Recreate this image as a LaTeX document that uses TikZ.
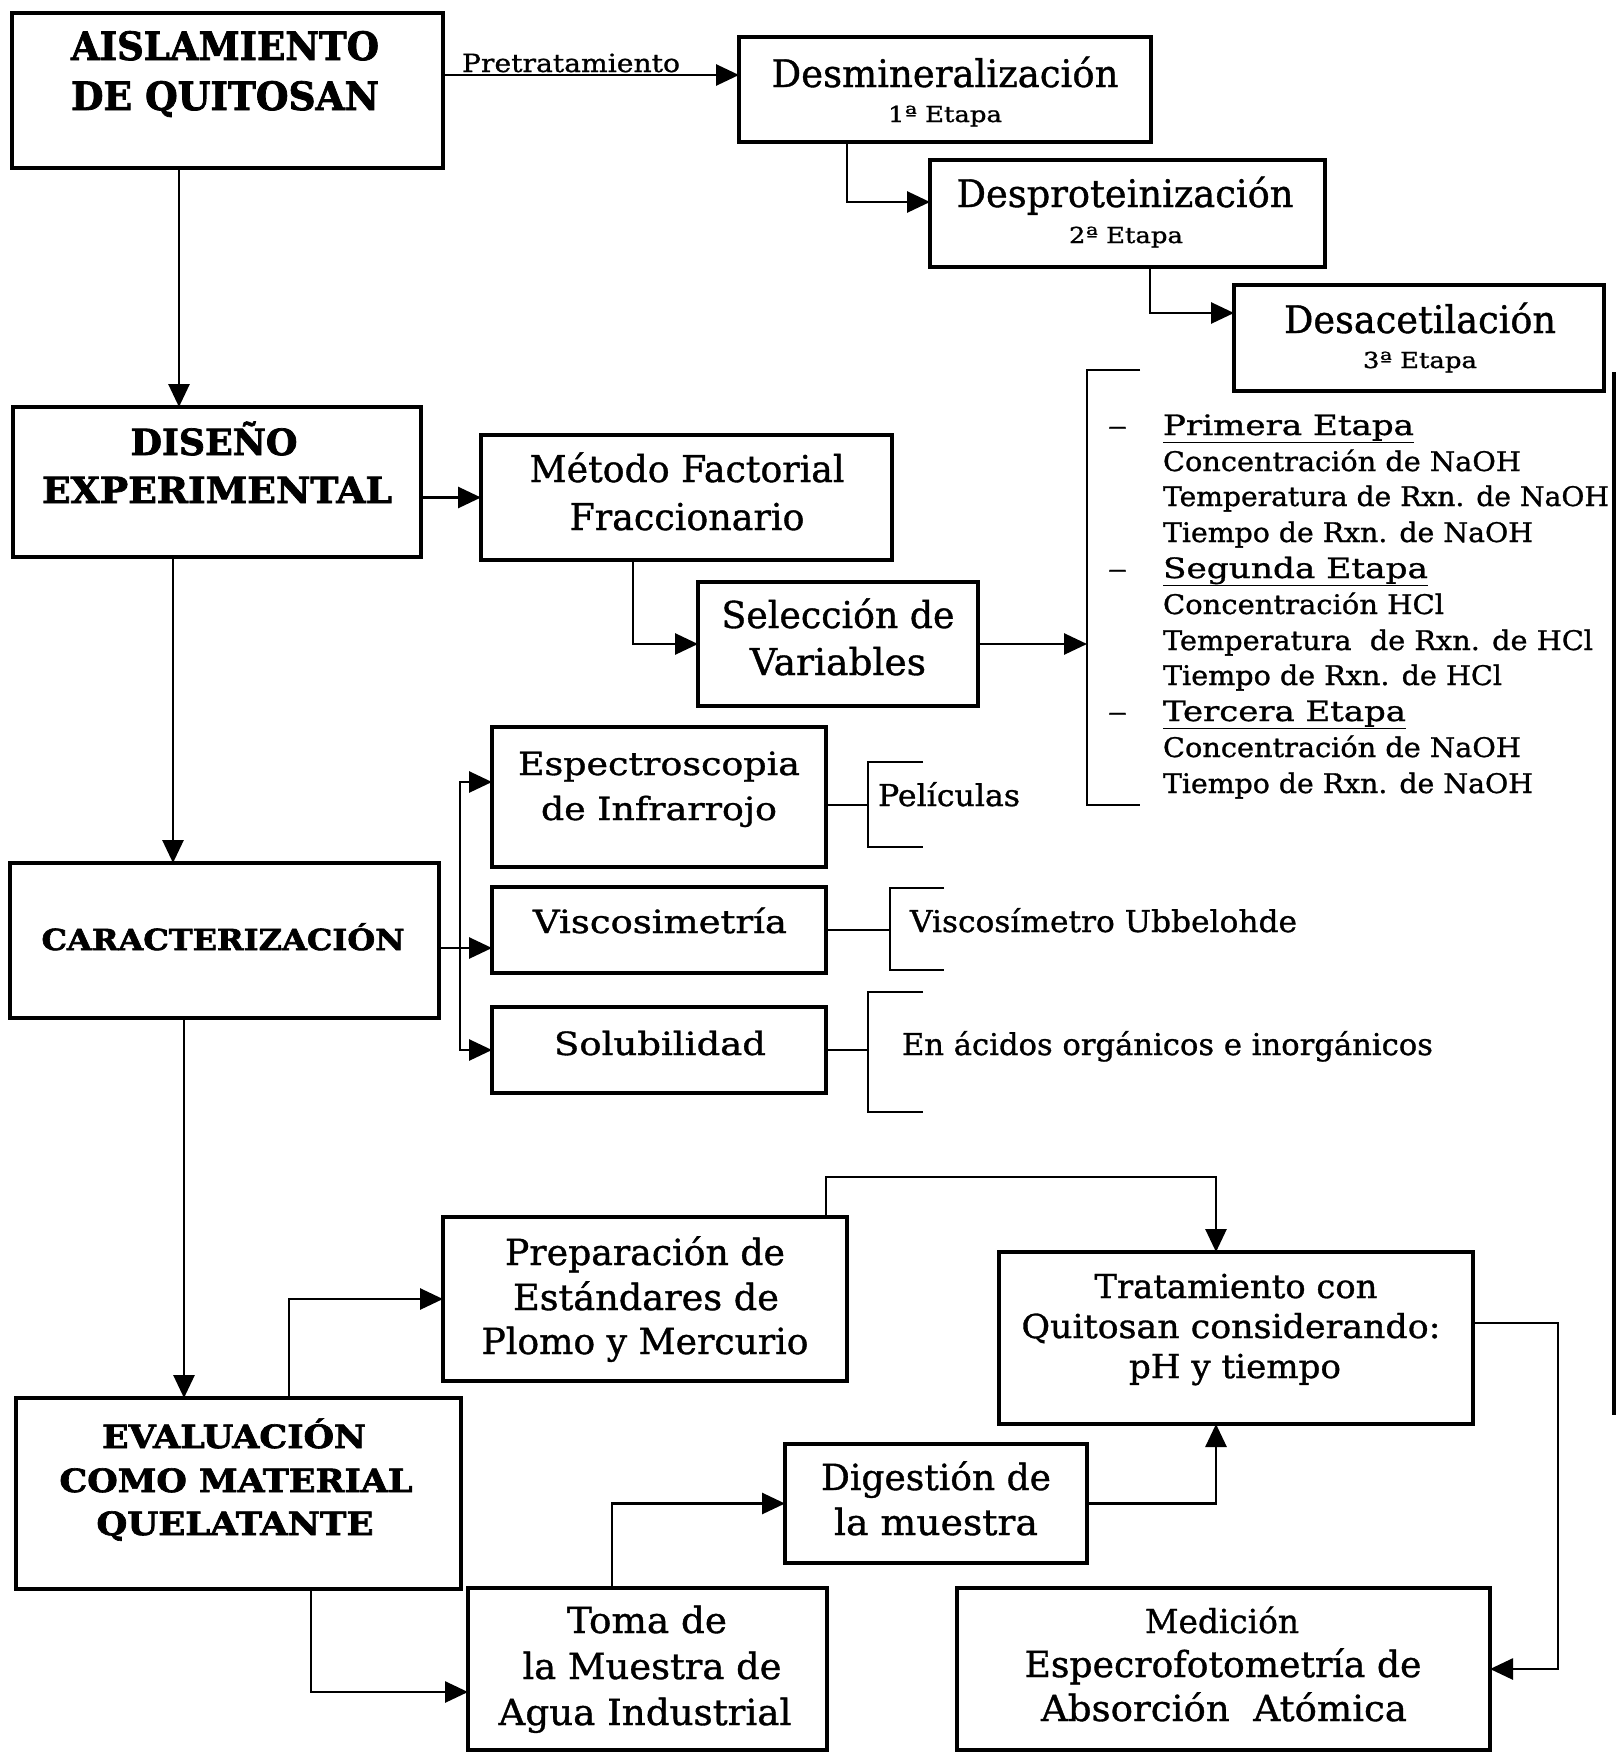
\documentclass[tikz,border=0pt]{standalone}
\usepackage{fontspec}
\setmainfont{DejaVu Serif}[FakeBold=1.0, BoldFeatures={FakeBold=2.0}]
\usepackage{graphicx}
\usetikzlibrary{arrows.meta,calc}
\tikzset{
  box/.style={draw, line width=3.4pt, inner sep=0pt, outer sep=0pt, rectangle},
  conn/.style={line width=2.8pt},
  arr/.style={conn, -{Triangle[length=23pt,width=21pt]}},
  txt/.style={inner sep=0pt, outer sep=0pt},
}
\newcommand{\mytc}[5]{\node[txt,anchor=base] (#1) at (#2) {\fontsize{#4pt}{#4pt}\selectfont\resizebox{#3pt}{\height}{#5}};}
\newcommand{\mytl}[5]{\node[txt,anchor=base west] (#1) at (#2) {\fontsize{#4pt}{#4pt}\selectfont\resizebox{#3pt}{\height}{#5}};}
\begin{document}
\begin{tikzpicture}[x=1pt,y=-1pt]
\fill[white] (0,0) rectangle (1620,1753);
\useasboundingbox (0,0) rectangle (1620,1753);

% boxes
\node[box, minimum width=431pt, minimum height=155pt] (ais) at (227.5,90.5) {};
\node[box, minimum width=412pt, minimum height=105pt] (desm) at (945,89.5) {};
\node[box, minimum width=395pt, minimum height=107pt] (desp) at (1127.5,213.5) {};
\node[box, minimum width=370pt, minimum height=106pt] (desa) at (1419,338) {};
\node[box, minimum width=408pt, minimum height=150pt] (dis) at (217,482) {};
\node[box, minimum width=411pt, minimum height=125pt] (met) at (686.5,497.5) {};
\node[box, minimum width=280pt, minimum height=124pt] (sel) at (838,644) {};
\node[box, minimum width=429pt, minimum height=155pt] (car) at (224.5,940.5) {};
\node[box, minimum width=334pt, minimum height=140pt] (esp) at (659,797) {};
\node[box, minimum width=334pt, minimum height=86pt] (vis) at (659,930) {};
\node[box, minimum width=334pt, minimum height=86pt] (sol) at (659,1050) {};
\node[box, minimum width=445pt, minimum height=191pt] (eval) at (238.5,1493.5) {};
\node[box, minimum width=404pt, minimum height=164pt] (prep) at (645,1299) {};
\node[box, minimum width=474pt, minimum height=172pt] (trat) at (1236,1338) {};
\node[box, minimum width=302pt, minimum height=119pt] (dig) at (936,1503.5) {};
\node[box, minimum width=359pt, minimum height=162pt] (toma) at (647.5,1669) {};
\node[box, minimum width=533pt, minimum height=162pt] (med) at (1223.5,1669) {};

% texts
\mytc{t1}{225,60}{308}{39}{\bfseries AISLAMIENTO}
\mytc{t2}{225,110}{308}{39}{\bfseries DE QUITOSAN}
\mytc{tpre}{571,72}{218}{25}{Pretratamiento}
\mytc{tdm1}{945,87}{347}{38}{Desmineralización}
\mytc{tdm2}{945,122}{114}{22}{1ª Etapa}
\mytc{tdp1}{1125,207}{337}{38}{Desproteinización}
\mytc{tdp2}{1126,243}{114}{22}{2ª Etapa}
\mytc{tda1}{1420,333}{272}{38}{Desacetilación}
\mytc{tda2}{1420,368}{114}{22}{3ª Etapa}
\mytc{tdi1}{214,455}{167}{36}{\bfseries DISEÑO}
\mytc{tdi2}{217,503}{350}{36}{\bfseries EXPERIMENTAL}
\mytc{tme1}{687,482}{315}{37}{Método Factorial}
\mytc{tme2}{687,530}{235}{37}{Fraccionario}
\mytc{tse1}{838,628}{233}{37}{Selección de}
\mytc{tse2}{838,675}{176}{37}{Variables}

\mytl{d1}{1108,435}{19}{27}{–}
\mytl{d2}{1108,578}{19}{27}{–}
\mytl{d3}{1108,721}{19}{27}{–}
\mytl{l1}{1163,435}{251}{28}{\underline{Primera Etapa}}
\mytl{l2}{1163,471}{358}{27}{Concentración de NaOH}
\mytl{l3}{1163,506}{446}{27}{Temperatura de Rxn. de NaOH}
\mytl{l4}{1163,542}{370}{27}{Tiempo de Rxn. de NaOH}
\mytl{l5}{1163,578}{265}{28}{\underline{Segunda Etapa}}
\mytl{l6}{1163,614}{281}{27}{Concentración HCl}
\mytl{l7}{1163,650}{430}{27}{Temperatura\ \ de Rxn. de HCl}
\mytl{l8}{1163,685}{339}{27}{Tiempo de Rxn. de HCl}
\mytl{l9}{1163,721}{243}{28}{\underline{Tercera Etapa}}
\mytl{l10}{1163,757}{358}{27}{Concentración de NaOH}
\mytl{l11}{1163,793}{370}{27}{Tiempo de Rxn. de NaOH}

\mytc{tcar}{223,950}{363}{29}{\bfseries CARACTERIZACIÓN}
\mytc{tes1}{659,775}{282}{32}{Espectroscopia}
\mytc{tes2}{659,820}{236}{32}{de Infrarrojo}
\mytc{tvi}{660,933}{254}{32}{Viscosimetría}
\mytc{tso}{660,1055}{212}{32}{Solubilidad}
\mytl{tpe}{878,806}{142}{30}{Películas}
\mytl{tub}{910,932}{387}{30}{Viscosímetro Ubbelohde}
\mytl{tac}{902,1055}{531}{30}{En ácidos orgánicos e inorgánicos}

\mytc{tev1}{234,1448}{264}{32}{\bfseries EVALUACIÓN}
\mytc{tev2}{236,1492}{353}{32}{\bfseries COMO MATERIAL}
\mytc{tev3}{235,1535}{277}{32}{\bfseries QUELATANTE}
\mytc{tpr1}{645,1265}{280}{36}{Preparación de}
\mytc{tpr2}{646,1310}{266}{36}{Estándares de}
\mytc{tpr3}{645,1354}{327}{36}{Plomo y Mercurio}
\mytc{ttr1}{1236,1298}{283}{33}{Tratamiento con}
\mytc{ttr2}{1231,1338}{419}{33}{Quitosan considerando:}
\mytc{ttr3}{1235,1378}{212}{33}{pH y tiempo}
\mytc{tdg1}{936,1490}{230}{36}{Digestión de}
\mytc{tdg2}{936,1535}{204}{36}{la muestra}
\mytc{tto1}{647,1633}{160}{36}{Toma de}
\mytc{tto2}{652,1679}{259}{36}{la Muestra de}
\mytc{tto3}{645,1725}{293}{36}{Agua Industrial}
\mytc{tmd1}{1222,1633}{154}{33}{Medición}
\mytc{tmd2}{1223,1677}{397}{36}{Especrofotometría de}
\mytc{tmd3}{1224,1721}{366}{36}{Absorción\ \ Atómica}

% connectors
\coordinate (pin) at ([yshift=14.5pt]desm.west);
\draw[arr] (ais.east |- pin) -- (pin);
\draw[arr] ([xshift=-98pt]desm.south) |- ([yshift=11.5pt]desp.west);
\draw[arr] ([xshift=22.5pt]desp.south) |- ([yshift=25pt]desa.west);
\coordinate (a1) at ([xshift=-48.5pt]ais.south);
\draw[arr] (a1) -- (a1 |- dis.north);
\draw[arr] (dis.east |- met.west) -- (met.west);
\draw[arr] ([xshift=-53.5pt]met.south) |- (sel.west);
\coordinate (bk) at (1087,644);
\draw[arr] (sel.east) -- (bk);
\draw[conn] (1140,370) -- (1087,370) -- (1087,805) -- (1140,805);

\coordinate (a2) at ([xshift=-44pt]dis.south);
\draw[arr] (a2) -- (a2 |- car.north);

\coordinate (cs) at ([yshift=-7.5pt]car.east);
\coordinate (cj) at ([xshift=21pt]cs);
\draw[conn] (cs) -- (cj);
\draw[arr] (cj) |- ([yshift=15pt]esp.west);
\draw[arr] (cj) -- (cj -| vis.west);
\draw[arr] (cj) |- (sol.west);

\coordinate (pb) at (868,805);
\draw[conn] ([yshift=-8pt]esp.east) -- (pb);
\draw[conn] (923,762) -- (868,762) -- (868,847) -- (923,847);
\coordinate (vb) at (890,930);
\draw[conn] (vis.east) -- (vb);
\draw[conn] (944,888) -- (890,888) -- (890,970) -- (944,970);
\coordinate (sb) at (868,1050);
\draw[conn] (sol.east) -- (sb);
\draw[conn] (923,992) -- (868,992) -- (868,1112) -- (923,1112);

\coordinate (c1) at ([xshift=-40.5pt]car.south);
\draw[arr] (c1) -- (c1 |- eval.north);
\draw[arr] ([xshift=50.5pt]eval.north) |- (prep.west);
\draw[arr] ([xshift=72.5pt]eval.south) |- ([yshift=-23pt]toma.west);
\draw[arr] ([xshift=-35.5pt]toma.north) |- (dig.west);
\draw[arr] ([xshift=181pt]prep.north) -- ++(0,-40) -| ([xshift=-20pt]trat.north);
\draw[arr] (dig.east) -| ([xshift=-20pt]trat.south);
\draw[arr] ([yshift=15pt]trat.east) -- ++(85,0) |- (med.east);

% scan edge
\draw[line width=3.2pt] (1614,372) -- (1614,1415);
\end{tikzpicture}
\end{document}
